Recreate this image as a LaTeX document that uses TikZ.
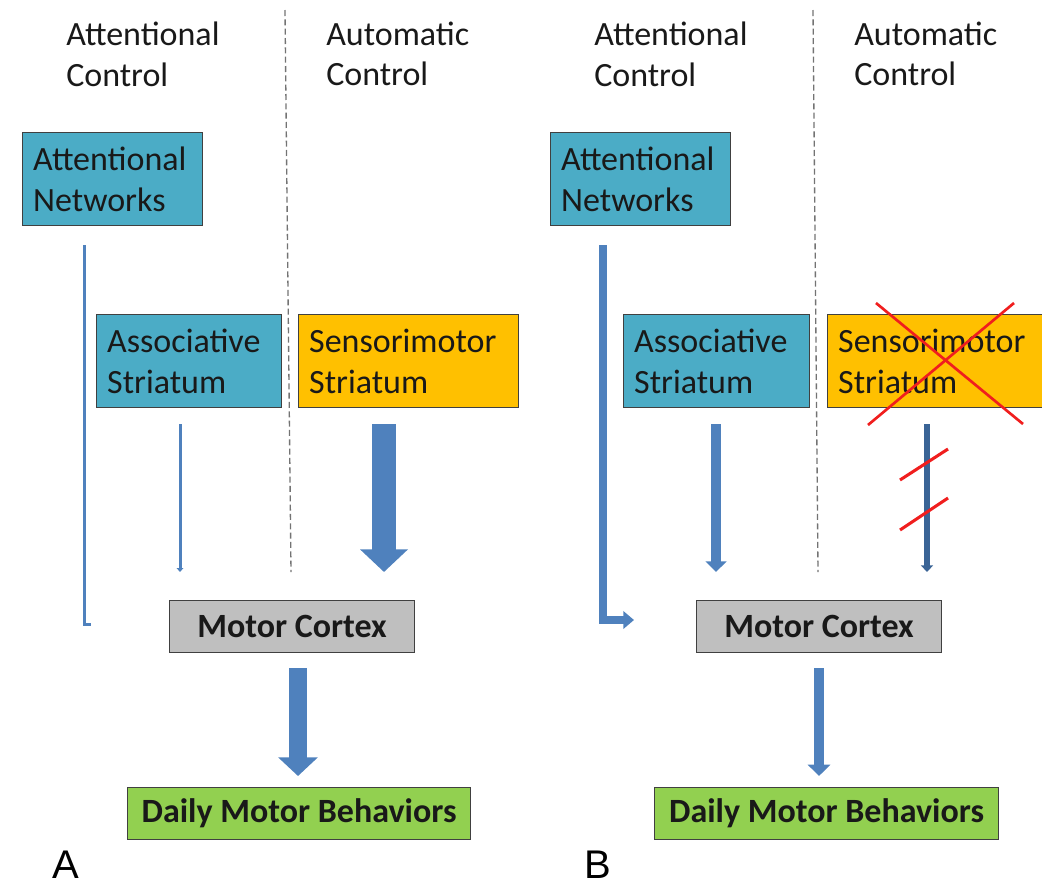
\documentclass[tikz,border=0pt]{standalone}
\usepackage{fontspec}
\setmainfont{Carlito}
\newfontfamily\labelfont{Liberation Sans}
\usetikzlibrary{arrows.meta,calc}

\definecolor{tealbox}{HTML}{4BACC6}
\definecolor{orangebox}{HTML}{FFC000}
\definecolor{graybox}{HTML}{BFBFBF}
\definecolor{greenbox}{HTML}{92D050}
\definecolor{arrowblue}{HTML}{4F81BD}
\definecolor{arrowdark}{HTML}{3A6496}
\definecolor{crossred}{HTML}{F01E1E}

\tikzset{
  x=0.75pt, y=-0.75pt,
  txt/.style={font=\fontsize{25.5pt}{30.5pt}\selectfont, text=black!90},
  header/.style={txt, align=left, inner sep=0pt, anchor=west},
  region/.style={txt, draw=black!75, line width=0.8pt, anchor=north west,
    align=left, inner xsep=8pt, inner ysep=0pt, minimum height=70pt},
  tealnode/.style={region, fill=tealbox},
  orangenode/.style={region, fill=orangebox},
  boldnode/.style={txt, font=\fontsize{25.5pt}{30.5pt}\selectfont\bfseries,
    draw=black!75, line width=0.8pt, anchor=north west, inner sep=0pt,
    minimum height=39pt},
  divider/.style={draw=black!55, line width=1pt, dash pattern=on 4.5pt off 2.5pt},
  flow/.style={draw=arrowblue, line join=miter},
  cross/.style={draw=crossred, line width=2pt},
  panel/.style={font=\labelfont\fontsize{30pt}{34pt}\selectfont, inner sep=0pt, anchor=base west}
}

\begin{document}
\begin{tikzpicture}
\useasboundingbox (0,0) rectangle (1042,886);

% ---------------- Panel A ----------------
\node[header] (hA1) at (66,54) {Attentional\\Control};
\node[header] (hA2) at (326,54) {Automatic\\Control};
\coordinate (dA1) at (285,10);
\coordinate (dA2) at (291,572);
\draw[divider] (dA1) -- (dA2);

\node[tealnode, minimum width=135pt, text width=119pt] (attnA) at (22,132) {Attentional\\Networks};
\node[tealnode, minimum width=138.75pt, text width=122.75pt] (assocA) at (96,314) {Associative\\Striatum};
\node[orangenode, minimum width=165pt, text width=149pt] (sensA) at (298,314) {Sensorimotor\\Striatum};
\node[boldnode, minimum width=183.75pt, fill=graybox] (motorA) at (169,600) {Motor Cortex};
\node[boldnode, minimum width=257.25pt, fill=greenbox] (dailyA) at (127,787) {Daily Motor Behaviors};
\node[panel] (labA) at (52,878) {A};

% attentional route (thin, ending short of the cortex)
\coordinate (lA1) at ($(attnA.south west)+(62,19)$);
\coordinate (lA2) at (84,624);
\coordinate (lA3) at (91,624);
\draw[flow, line width=2.25pt] (lA1) -- (lA2) -- (lA3);
% associative route (thin)
\coordinate (aA1) at ($(assocA.south west)+(84,16)$);
\coordinate (aA2) at (180,572);
\draw[flow, line width=2.25pt, -{Triangle[width=5pt,length=3pt]}] (aA1) -- (aA2);
% sensorimotor route (thick)
\coordinate (sA1) at ($(sensA.south west)+(86,16)$);
\coordinate (sA2) at (384,572);
\draw[flow, line width=18pt, -{Triangle[width=35pt,length=17pt]}] (sA1) -- (sA2);
% cortex to behaviour (thick)
\draw[flow, line width=14pt, -{Triangle[width=29pt,length=14pt]}]
  ($(motorA.south west)+(129,15)$) -- ($(dailyA.north west)+(171,-11)$);

% ---------------- Panel B ----------------
\node[header] (hB1) at (594,54) {Attentional\\Control};
\node[header] (hB2) at (854,54) {Automatic\\Control};
\coordinate (dB1) at (813,10);
\coordinate (dB2) at (818,572);
\draw[divider] (dB1) -- (dB2);

\node[tealnode, minimum width=135pt, text width=119pt] (attnB) at (550,132) {Attentional\\Networks};
\node[tealnode, minimum width=139.5pt, text width=123.5pt] (assocB) at (623,314) {Associative\\Striatum};
\node[orangenode, minimum width=167pt, text width=151pt] (sensB) at (827,314) {Sensorimotor\\Striatum};
\node[boldnode, minimum width=183.75pt, fill=graybox] (motorB) at (696,600) {Motor Cortex};
\node[boldnode, minimum width=258pt, fill=greenbox] (dailyB) at (654,787) {Daily Motor Behaviors};
\node[panel] (labB) at (584,878) {B};

% lesion of the sensorimotor striatum
\coordinate (xB1) at (876,303);
\coordinate (xB2) at (1023,424);
\coordinate (xB3) at (1014,303);
\coordinate (xB4) at (868,425);
\draw[cross] (xB1) -- (xB2);
\draw[cross] (xB3) -- (xB4);

% attentional route (strengthened, reaching the cortex)
\coordinate (lB1) at ($(attnB.south west)+(53,19)$);
\coordinate (lB2) at (603,620);
\coordinate (lB3) at (634,620);
\draw[flow, line width=6pt, -{Triangle[width=13pt,length=8pt]}] (lB1) -- (lB2) -- (lB3);
% associative route (medium)
\coordinate (aB1) at ($(assocB.south west)+(93,16)$);
\coordinate (aB2) at (716,572);
\draw[flow, line width=7.5pt, -{Triangle[width=15.5pt,length=8pt]}] (aB1) -- (aB2);
% sensorimotor route (interrupted)
\coordinate (sB1) at ($(sensB.south west)+(100,16)$);
\coordinate (sB2) at (927,572);
\draw[draw=arrowdark, line width=5pt, -{Triangle[width=9pt,length=5pt]}] (sB1) -- (sB2);
\coordinate (cB1) at (900,480);
\coordinate (cB2) at (948,449);
\coordinate (cB3) at (900,530);
\coordinate (cB4) at (948,498);
\draw[cross, line width=2.3pt] (cB1) -- (cB2);
\draw[cross, line width=2.3pt] (cB3) -- (cB4);
% cortex to behaviour (medium)
\draw[flow, line width=7pt, -{Triangle[width=16.5pt,length=8.5pt]}]
  ($(motorB.south west)+(123,15)$) -- ($(dailyB.north west)+(165,-11)$);
\end{tikzpicture}
\end{document}
